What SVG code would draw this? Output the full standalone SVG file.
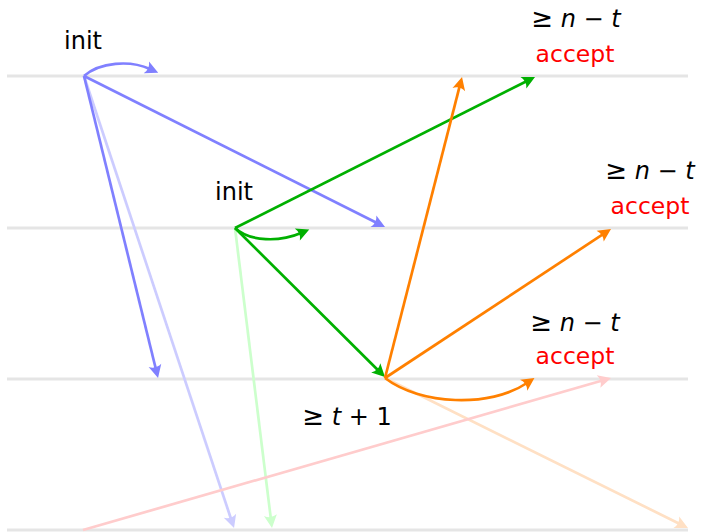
<svg xmlns="http://www.w3.org/2000/svg" width="701" height="532" viewBox="0 0 701 532">
<style>
.lane{stroke:#e5e5e5;stroke-width:3;fill:none}
.c{fill:none;stroke-width:2.7}
.lbl{font-family:"DejaVu Sans",sans-serif;font-size:24px;fill:#000;text-anchor:middle}
.acc{fill:#ff0000;font-size:23.5px}
.m{font-style:italic}
.s{font-size:26px}
</style>
<defs>
<marker id="aB" markerUnits="userSpaceOnUse" markerWidth="17" markerHeight="14" viewBox="-1 -7 17 14" refX="4" refY="0" orient="auto"><path d="M13,0 L0,-6.5 Q4,0 0,6.5 Z" fill="#8080ff"/></marker>
<marker id="aLB" markerUnits="userSpaceOnUse" markerWidth="17" markerHeight="14" viewBox="-1 -7 17 14" refX="4" refY="0" orient="auto"><path d="M13,0 L0,-6.5 Q4,0 0,6.5 Z" fill="#ccccff"/></marker>
<marker id="aG" markerUnits="userSpaceOnUse" markerWidth="17" markerHeight="14" viewBox="-1 -7 17 14" refX="4" refY="0" orient="auto"><path d="M13,0 L0,-6.5 Q4,0 0,6.5 Z" fill="#00b000"/></marker>
<marker id="aLG" markerUnits="userSpaceOnUse" markerWidth="17" markerHeight="14" viewBox="-1 -7 17 14" refX="4" refY="0" orient="auto"><path d="M13,0 L0,-6.5 Q4,0 0,6.5 Z" fill="#ccffcc"/></marker>
<marker id="aO" markerUnits="userSpaceOnUse" markerWidth="17" markerHeight="14" viewBox="-1 -7 17 14" refX="4" refY="0" orient="auto"><path d="M13,0 L0,-6.5 Q4,0 0,6.5 Z" fill="#ff8000"/></marker>
<marker id="aLO" markerUnits="userSpaceOnUse" markerWidth="17" markerHeight="14" viewBox="-1 -7 17 14" refX="4" refY="0" orient="auto"><path d="M13,0 L0,-6.5 Q4,0 0,6.5 Z" fill="#ffe0c4"/></marker>
<marker id="aP" markerUnits="userSpaceOnUse" markerWidth="17" markerHeight="14" viewBox="-1 -7 17 14" refX="4" refY="0" orient="auto"><path d="M13,0 L0,-6.5 Q4,0 0,6.5 Z" fill="#ffcccc"/></marker>
</defs>
<g id="lanes">
<line class="lane" x1="7" y1="76" x2="688" y2="76"/>
<line class="lane" x1="7" y1="228" x2="688" y2="228"/>
<line class="lane" x1="7" y1="379" x2="688" y2="379"/>
<line class="lane" x1="7" y1="530" x2="688" y2="530"/>
</g>
<g id="connectors">
<path class="c" stroke="#ccccff" d="M84,76 L231.2,519.5" marker-end="url(#aLB)"/>
<path class="c" stroke="#ccffcc" d="M235,228 L270.9,519.1" marker-end="url(#aLG)"/>
<path class="c" stroke="#ffe0c4" d="M385,378 L679.9,524" marker-end="url(#aLO)"/>
<path class="c" stroke="#ffcccc" d="M83,530 L602.4,380.5" marker-end="url(#aP)"/>
<path class="c" stroke="#8080ff" d="M84,76 C100,62 130,60 150,69" marker-end="url(#aB)"/>
<path class="c" stroke="#8080ff" d="M84,76 L377,223" marker-end="url(#aB)"/>
<path class="c" stroke="#8080ff" d="M84,76 L155.9,369.3" marker-end="url(#aB)"/>
<path class="c" stroke="#00b000" d="M235,228 L527,81" marker-end="url(#aG)"/>
<path class="c" stroke="#00b000" d="M235,228 C250,242 280,242 301,233" marker-end="url(#aG)"/>
<path class="c" stroke="#00b000" d="M235,228 L378.6,370.7" marker-end="url(#aG)"/>
<path class="c" stroke="#ff8000" d="M385,378 L459.8,85.7" marker-end="url(#aO)"/>
<path class="c" stroke="#ff8000" d="M385,378 L603.5,233.9" marker-end="url(#aO)"/>
<path class="c" stroke="#ff8000" d="M385,378 C420,405 490,408 527,383" marker-end="url(#aO)"/>
</g>
<g id="p1-init"><text class="lbl" x="83" y="49">init</text></g>
<g id="p2-init"><text class="lbl" x="234" y="200">init</text></g>
<g id="p1-accept">
<text class="lbl" x="576" y="27"><tspan class="s">≥</tspan> <tspan class="m">n</tspan> − <tspan class="m">t</tspan></text>
<text class="lbl acc" x="575" y="62">accept</text>
</g>
<g id="p2-accept">
<text class="lbl" x="650" y="179"><tspan class="s">≥</tspan> <tspan class="m">n</tspan> − <tspan class="m">t</tspan></text>
<text class="lbl acc" x="650" y="214">accept</text>
</g>
<g id="p3-accept">
<text class="lbl" x="575" y="331"><tspan class="s">≥</tspan> <tspan class="m">n</tspan> − <tspan class="m">t</tspan></text>
<text class="lbl acc" x="575" y="364">accept</text>
</g>
<g id="p3-threshold"><text class="lbl" x="347" y="425"><tspan class="s">≥</tspan> <tspan class="m">t</tspan> + 1</text></g>
</svg>
